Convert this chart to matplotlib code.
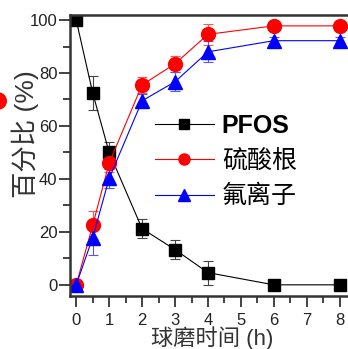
import matplotlib
matplotlib.use("Agg")
import matplotlib.pyplot as plt
from matplotlib.patches import Circle
from matplotlib.ticker import MultipleLocator

plt.rcParams['font.family'] = ['Liberation Sans', 'Noto Sans CJK SC', 'DejaVu Sans']

# milling time (h)
hours = [0, 0.5, 1, 2, 3, 4, 6, 8]

# percentage values
pfos = [100, 72.5, 50, 21.2, 13.3, 4.6, 0, 0]
pfos_err = [0.5, 6.5, 4.0, 3.5, 3.7, 4.5, 2.0, 1.5]

sulfate = [0, 22.5, 46, 75.5, 83.5, 94.6, 97.8, 97.8]
sulfate_err = [0.5, 5.3, 3.5, 3.0, 3.0, 4.0, 2.0, 2.0]

fluoride = [0, 17.8, 40.2, 69.5, 76.7, 88.0, 92.2, 92.2]
fluoride_err = [0.5, 6.5, 3.5, 2.5, 3.5, 4.0, 1.5, 1.5]

labels = ['PFOS', '硫酸根', '氟离子']

fig = plt.figure(figsize=(3.48, 3.49), dpi=100)
ax = fig.add_axes([0.201, 0.152, 0.834, 0.805])

c1 = ax.errorbar(hours, pfos, yerr=pfos_err, color='black', ecolor='#444444',
                 marker='s', markersize=9, linewidth=0.8, elinewidth=0.8,
                 capsize=3.5, capthick=0.8)
c2 = ax.errorbar(hours, sulfate, yerr=sulfate_err, color='#ff0000', ecolor='#ff5555',
                 marker='o', markersize=10, linewidth=0.8, elinewidth=0.8,
                 capsize=3.5, capthick=0.8)
c3 = ax.errorbar(hours, fluoride, yerr=fluoride_err, color='#0000ff', ecolor='#5555ff',
                 marker='^', markersize=10, linewidth=0.8, elinewidth=0.8,
                 capsize=3.5, capthick=0.8)

ax.set_xlim(-0.19, 8.62)
ax.set_ylim(-4.2, 101.9)
ax.xaxis.set_major_locator(MultipleLocator(1))
ax.xaxis.set_minor_locator(MultipleLocator(0.5))
ax.yaxis.set_major_locator(MultipleLocator(20))
ax.yaxis.set_minor_locator(MultipleLocator(10))
ax.tick_params(which='major', direction='out', length=8, width=1.2, labelsize=12,
               colors='#222222')
ax.tick_params(which='minor', direction='out', length=5, width=1.2, colors='#222222')
ax.tick_params(axis='x', pad=4)
ax.tick_params(axis='y', pad=1)

for side in ['left', 'bottom', 'top', 'right']:
    ax.spines[side].set_linewidth(1.8)
    ax.spines[side].set_color('#333333')

ax.set_xlabel('球磨时间 (h)', fontsize=16, color='#333333')
ax.xaxis.set_label_coords(0.49, -0.108, transform=ax.transAxes)
ax.xaxis.label.set_va('top')
ax.set_ylabel('百分比 (%)', fontsize=19, color='#333333')
ax.yaxis.set_label_coords(-0.155, 0.575)
ax.yaxis.label.set_va('center')

leg = ax.legend(handles=[c1[0], c2[0], c3[0]], labels=labels,
                loc='center left', bbox_to_anchor=(0.215, 0.48), frameon=False,
                fontsize=18, handlelength=2.36, handletextpad=0.32,
                labelspacing=0.45, markerscale=0.8)
leg.get_texts()[0].set_fontweight('bold')

# partial marker from a neighbouring panel at the left edge
fig.patches.append(Circle((-0.005, 1 - 101 / 349), 8 / 348, color='#ff0000',
                          transform=fig.transFigure, figure=fig))

fig.savefig('out.png', dpi=100)
